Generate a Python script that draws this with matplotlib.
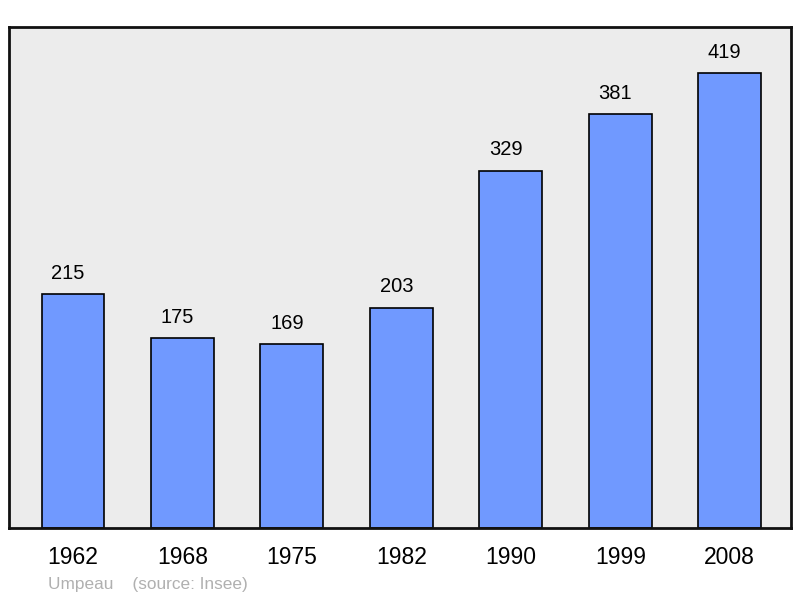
import matplotlib.pyplot as plt

years = ["1962", "1968", "1975", "1982", "1990", "1999", "2008"]
population = [215, 175, 169, 203, 329, 381, 419]
commune = "Umpeau"
source = "(source: Insee)"

plt.rcParams['font.family'] = ['Liberation Sans', 'DejaVu Sans']

fig = plt.figure(figsize=(8, 5.98), dpi=100)
ax = fig.add_axes([9/800, 1 - 528/598, 782/800, 501/598])
ax.set_facecolor("#ececec")

x = range(len(years))
ax.bar(x, population, width=0.575, color="#7099ff", edgecolor="black", linewidth=1.2, zorder=2)
for i, v in enumerate(population):
    ax.text(i - 0.045, v + 10.5, str(v), ha="center", va="bottom", fontsize=14.5)

ax.set_xlim(-0.585, 6.56)
ax.set_ylim(0, 461.3)
ax.set_xticks(list(x))
ax.set_xticklabels(years, fontsize=16.5)
ax.tick_params(axis="x", length=0, pad=13)
ax.set_yticks([])
for s in ax.spines.values():
    s.set_linewidth(2)
    s.set_color("#111111")

fig.text(48/800, 1 - 584/598, commune + "    " + source, fontsize=12.4,
         color="#b0b0b0", va="center", ha="left")

fig.savefig("out.png", dpi=100)
